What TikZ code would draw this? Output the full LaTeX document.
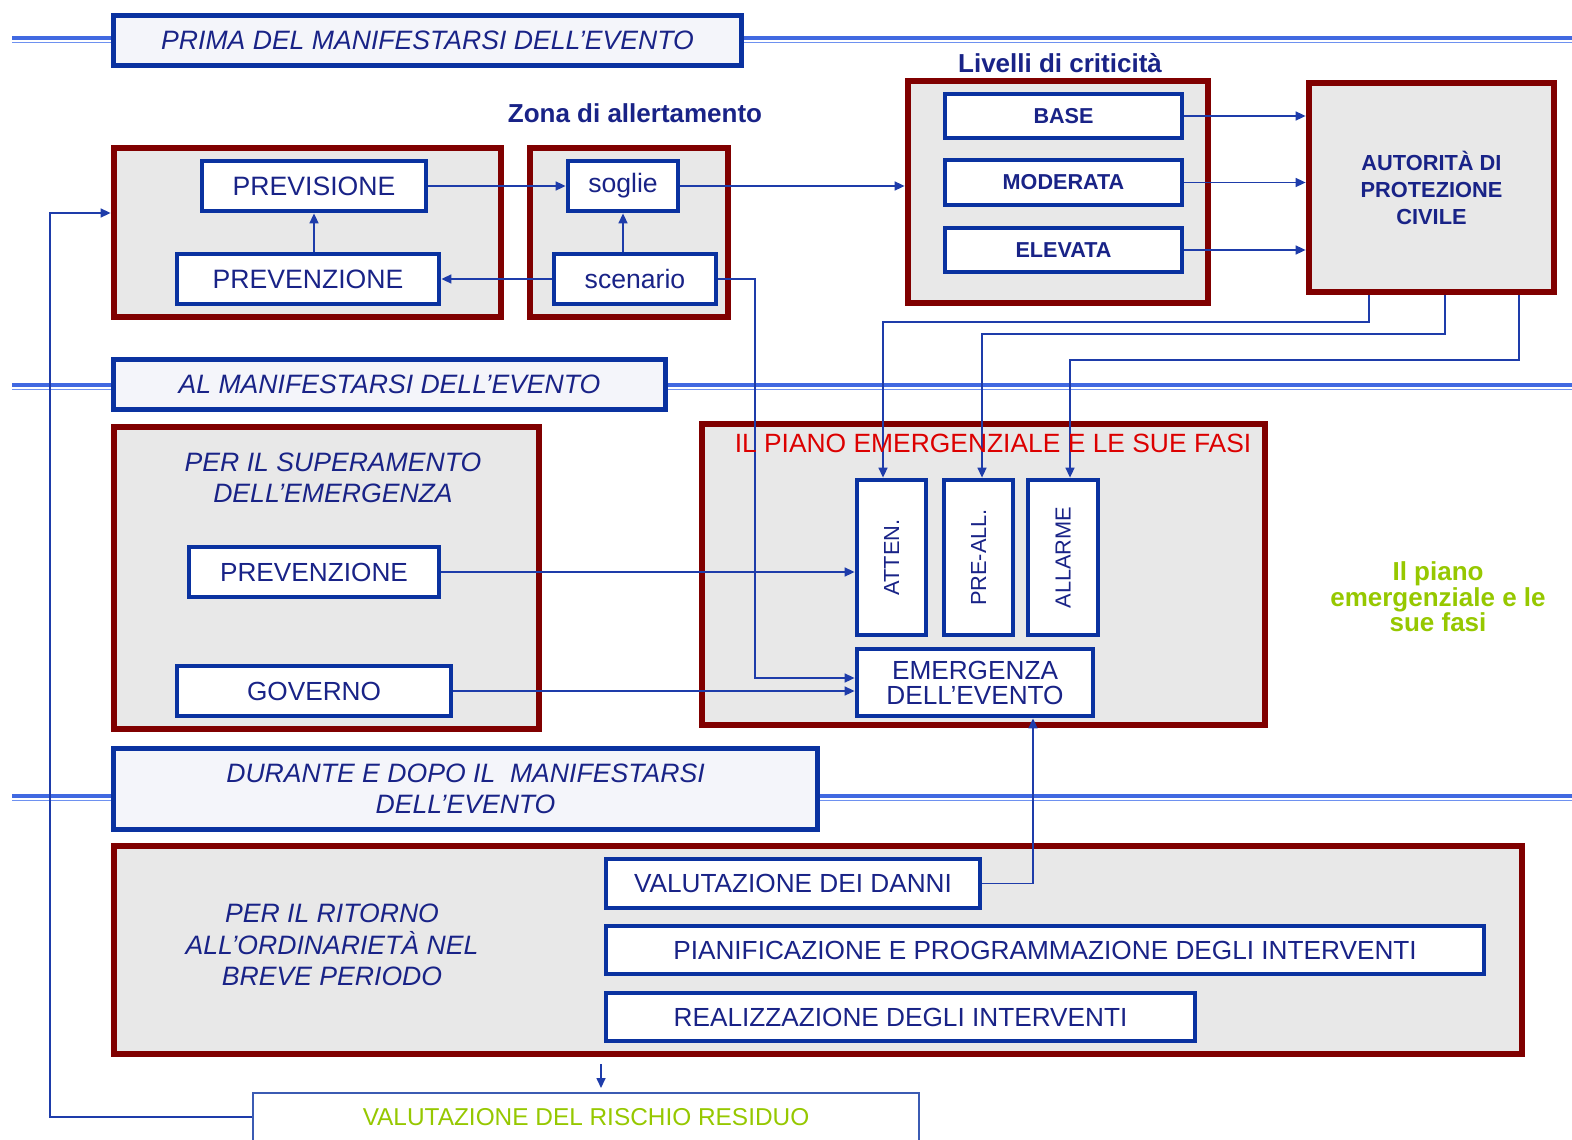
\documentclass[tikz,border=0pt]{standalone}
\usepackage{fontspec}
\setmainfont{Liberation Sans}
\usepackage{graphicx}
\usetikzlibrary{arrows.meta,calc}
\definecolor{bandblue}{RGB}{65,105,225}
\definecolor{bandlight}{RGB}{110,145,240}
\definecolor{hblue}{RGB}{10,50,160}
\definecolor{dred}{RGB}{128,0,0}
\definecolor{gfill}{RGB}{232,232,232}
\definecolor{hfill}{RGB}{244,245,250}
\definecolor{tblue}{RGB}{25,35,135}
\definecolor{cblue}{RGB}{30,60,170}
\definecolor{redtxt}{RGB}{220,0,0}
\definecolor{grn}{RGB}{150,200,0}
\newcommand\bx[7]{\node[#6,minimum width={(#4-#2)*0.5pt-\pgflinewidth},minimum height={(#5-#3)*0.5pt-\pgflinewidth}] (#1) at ({(#2+#4)/2},{(#3+#5)/2}) {#7};}
\begin{document}
\begin{tikzpicture}[x=0.5pt,y=-0.5pt,
  band/.style={draw=bandblue,line width=2pt},
  bandthin/.style={draw=bandlight,line width=0.8pt},
  hdr/.style={draw=hblue,line width=2.5pt,fill=hfill,inner sep=0pt,align=center,text=tblue,font=\itshape\fontsize{13.3}{15.5}\selectfont},
  rbox/.style={draw=dred,line width=3.2pt,fill=gfill,inner sep=0pt},
  rtxt/.style={align=center,text=tblue,font=\bfseries\fontsize{10.9}{13.5}\selectfont},
  wbox/.style={draw=hblue,line width=2pt,fill=white,inner sep=0pt,align=center,text=tblue,font=\fontsize{13.1}{12.5}\selectfont},
  wbold/.style={font=\fontsize{13.3}{12.5}\selectfont},
  wsmall/.style={font=\bfseries\fontsize{10.8}{12.5}\selectfont},
  wvert/.style={font=\fontsize{10.9}{12.5}\selectfont},
  risbox/.style={draw=hblue!80,line width=1pt,fill=white,inner sep=0pt,align=center,text=grn,font=\fontsize{12.2}{14}\selectfont},
  itx/.style={align=center,text=tblue,font=\itshape\fontsize{13.3}{15.8}\selectfont},
  lbl/.style={text=tblue,font=\bfseries\fontsize{13}{15}\selectfont},
  redt/.style={text=redtxt,font=\fontsize{13.2}{15}\selectfont},
  grnlbl/.style={align=center,text=grn,font=\bfseries\fontsize{13}{12.8}\selectfont},
  conn/.style={draw=cblue,line width=0.8pt,-{Triangle[length=5pt,width=4.5pt]},shorten >=0.2pt},
  rconn/.style={conn,shorten >=0.2pt}
]
\clip (0,0) rectangle (1572,1139);
\fill[white] (0,0) rectangle (1572,1139);
% bands
\foreach \yy in {38,385,796}{
  \draw[band] (12,\yy) -- (1572,\yy);
  \draw[bandthin] (12,\yy+4.5) -- (1572,\yy+4.5);
}
% headers
\bx{H1}{111}{13}{744}{68}{hdr}{PRIMA DEL MANIFESTARSI DELL’EVENTO}
\bx{H2}{111}{357}{668}{412}{hdr}{AL MANIFESTARSI DELL’EVENTO}
\bx{H3}{111}{746}{820}{832}{hdr}{DURANTE E DOPO IL\ \ MANIFESTARSI\\DELL’EVENTO}
% red boxes
\bx{R1}{111}{145}{504}{320}{rbox}{}
\bx{R2}{527}{145}{731}{320}{rbox}{}
\bx{R3}{905}{78}{1211}{306}{rbox}{}
\bx{R4}{1306}{80}{1557}{295}{rbox,rtxt}{AUTORITÀ DI\\PROTEZIONE\\CIVILE}
\bx{R5}{111}{424}{542}{732}{rbox}{}
\bx{R6}{699}{421}{1268}{728}{rbox}{}
\bx{R7}{111}{843}{1525}{1057}{rbox}{}
% white boxes
\bx{PREV}{200}{159}{428}{213}{wbox,wbold}{PREVISIONE}
\bx{PRVZ}{175}{252}{441}{306}{wbox,wbold}{PREVENZIONE}
\bx{SOG}{566}{159}{680}{213}{wbox,wbold}{soglie}
\bx{SCE}{552}{252}{718}{306}{wbox,wbold}{scenario}
\bx{BASE}{943}{92}{1184}{140}{wbox,wsmall}{BASE}
\bx{MOD}{943}{158}{1184}{207}{wbox,wsmall}{MODERATA}
\bx{ELE}{943}{226}{1184}{274}{wbox,wsmall}{ELEVATA}
\bx{PRVZ2}{187}{545}{441}{599}{wbox}{PREVENZIONE}
\bx{GOV}{175}{664}{453}{718}{wbox}{GOVERNO}
\bx{ATT}{855}{478}{928}{637}{wbox,wvert}{\rotatebox{90}{ATTEN.}}
\bx{PRA}{942}{478}{1015}{637}{wbox,wvert}{\rotatebox{90}{PRE-ALL.}}
\bx{ALL}{1026}{478}{1100}{637}{wbox,wvert}{\rotatebox{90}{ALLARME}}
\bx{EME}{855}{647}{1095}{718}{wbox}{EMERGENZA\\DELL’EVENTO}
\bx{VD}{604}{857}{982}{910}{wbox}{VALUTAZIONE DEI DANNI}
\bx{PIA}{604}{924}{1486}{976}{wbox}{PIANIFICAZIONE E PROGRAMMAZIONE DEGLI INTERVENTI}
\bx{REA}{604}{991}{1197}{1043}{wbox}{REALIZZAZIONE DEGLI INTERVENTI}
\bx{RIS}{252}{1092}{920}{1142}{risbox}{VALUTAZIONE DEL RISCHIO RESIDUO}
% free texts
\node[itx] (T5) at (333,478) {PER IL SUPERAMENTO\\DELL’EMERGENZA};
\node[itx] (T7) at (332,945) {PER IL RITORNO\\ALL’ORDINARIETÀ NEL\\BREVE PERIODO};
\node[lbl] (ZA) at (635,113) {Zona di allertamento};
\node[lbl] (LC) at (1060,63) {Livelli di criticità};
\node[grnlbl] (GL) at (1438,597) {Il piano\\emergenziale e le\\sue fasi};
% connectors
\draw[conn] (PREV.east) -- (SOG.west);
\draw[conn] (PREV.south |- PRVZ.north) -- (PREV.south);
\draw[conn] (SOG.south |- SCE.north) -- (SOG.south);
\draw[conn] (SCE.west) -- (PRVZ.east);
\draw[rconn] (SOG.east) -- (SOG.east -| R3.west);
\draw[rconn] (BASE.east) -- (BASE.east -| R4.west);
\draw[rconn] (MOD.east) -- (MOD.east -| R4.west);
\draw[rconn] (ELE.east) -- (ELE.east -| R4.west);
\coordinate (a1) at (1369,322);
\coordinate (a2) at (1445,334);
\coordinate (a3) at (1519,360);
\draw[conn] (a1 |- R4.south) -- (a1) -| ([xshift=-4.25pt]ATT.north);
\draw[conn] (a2 |- R4.south) -- (a2) -| ([xshift=1.75pt]PRA.north);
\draw[conn] (a3 |- R4.south) -- (a3) -| ([xshift=3.5pt]ALL.north);
\coordinate (b1) at (755,678);
\draw[conn] (SCE.east) -| (b1) -- (b1 -| EME.west);
\draw[conn] (PRVZ2.east) -- (PRVZ2.east -| ATT.west);
\draw[conn] (GOV.east) -- (GOV.east -| EME.west);
\coordinate (b2) at (1033,883);
\draw[conn] (VD.east) -| (b2 |- EME.south);
\coordinate (b3) at (601,1064);
\draw[conn,shorten >=2pt] (b3) -- (b3 |- RIS.north);
\coordinate (b4) at (50,213);
\draw[rconn] (RIS.west) -| (b4) -- (b4 -| R1.west);
% red title on top of connectors
\node[redt] (PT) at (993,443) {IL PIANO EMERGENZIALE E LE SUE FASI};
\end{tikzpicture}
\end{document}
